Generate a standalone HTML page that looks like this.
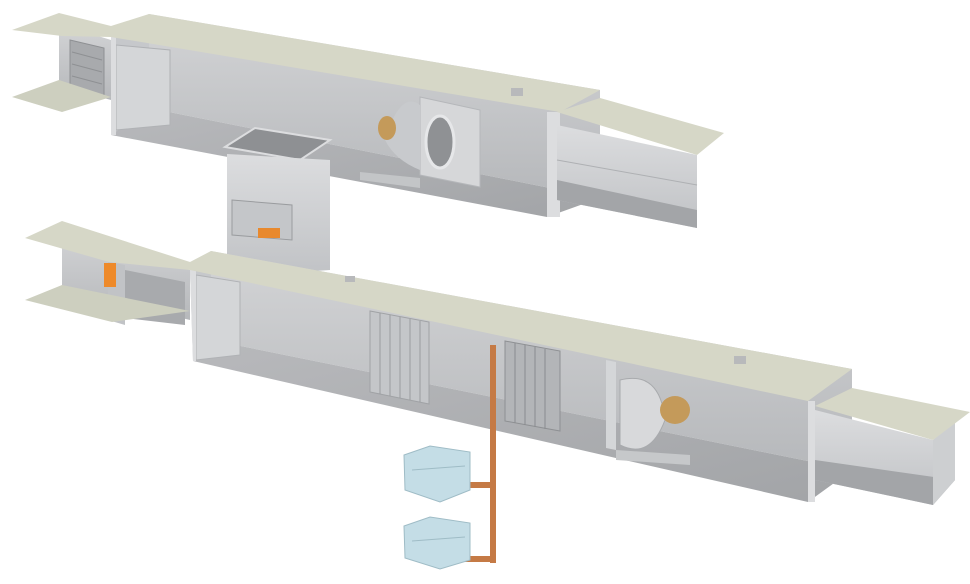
<!DOCTYPE html>
<html><head><meta charset="utf-8"><style>html,body{margin:0;padding:0;background:#fff;width:970px;height:584px;overflow:hidden}</style></head>
<body>
<svg width="970" height="584" viewBox="0 0 970 584" xmlns="http://www.w3.org/2000/svg">
<defs>
<linearGradient id="wall" x1="0" y1="0" x2="0" y2="1"><stop offset="0" stop-color="#d3d4d6"/><stop offset="1" stop-color="#b6b8bb"/></linearGradient>
<linearGradient id="floor" x1="0" y1="0" x2="1" y2="1"><stop offset="0" stop-color="#b8b9bc"/><stop offset="1" stop-color="#a2a4a7"/></linearGradient>
<linearGradient id="duct" x1="0" y1="0" x2="0" y2="1"><stop offset="0" stop-color="#dcdddf"/><stop offset="1" stop-color="#c0c2c5"/></linearGradient>
</defs>
<!-- UPPER UNIT -->
<polygon points="59,24 111,40 111,100 59,86" fill="url(#wall)"/>
<polygon points="70,40 104,48 104,98 70,90" fill="#a8aaad" stroke="#8e9093" stroke-width="1"/>
<g stroke="#8e9093"><line x1="72" y1="52" x2="102" y2="60"/><line x1="72" y1="64" x2="102" y2="72"/><line x1="72" y1="76" x2="102" y2="84"/></g>
<polygon points="12,97 59,80 111,97 62,112" fill="#cdcfbf"/>
<polygon points="149,14 600,90 600,198 149,108" fill="url(#wall)"/>
<polygon points="111,37 149,14 149,108 111,135" fill="#c6c8cb"/>
<polygon points="111,135 149,108 600,198 547,217" fill="url(#floor)"/>
<polygon points="116,45 170,50 170,125 116,130" fill="#d4d6d8" stroke="#b0b2b5"/>
<polygon points="225,147 255,128 330,140 300,160" fill="#8e9093" stroke="#dcdddf" stroke-width="2"/>
<polygon points="420,97 480,110 480,187 420,175" fill="#d6d7d9" stroke="#b5b7ba"/>
<ellipse cx="440" cy="142" rx="14" ry="26" fill="#8f9194" stroke="#e6e7e9" stroke-width="3"/>
<path d="M385,140 Q400,90 420,105 L420,170 Q395,160 385,140Z" fill="#c8cacd"/>
<ellipse cx="387" cy="128" rx="9" ry="12" fill="#c49a5a"/>
<polygon points="360,172 420,178 420,188 360,180" fill="#c3c5c7"/>
<polygon points="111,37 116,37 116,135 111,135" fill="#dcdddf"/>
<polygon points="547,112 560,112 560,217 547,217" fill="#dcdddf"/>
<polygon points="12,30 59,13 111,26 149,14 600,90 560,112 111,37 62,36" fill="#d6d7c7"/>
<rect x="511" y="88" width="12" height="8" fill="#b8b9bb"/>
<polygon points="557,125 697,155 697,228 557,200" fill="url(#duct)"/>
<polygon points="557,180 697,210 697,228 557,200" fill="#a3a5a8"/>
<line x1="557" y1="160" x2="697" y2="185" stroke="#aeb0b3"/>
<polygon points="557,112 600,98 724,133 697,155" fill="#d6d7c7"/>
<polygon points="227,154 330,160 330,270 227,277" fill="url(#duct)"/>
<polygon points="232,200 292,205 292,240 232,235" fill="#c4c6c9" stroke="#9a9c9f"/>
<rect x="258" y="228" width="22" height="10" fill="#e8892e"/>
<!-- LOWER UNIT -->
<polygon points="62,230 190,270 190,320 62,290" fill="url(#wall)"/>
<polygon points="108,262 125,265 125,325 108,320" fill="#c1c3c6"/>
<rect x="104" y="263" width="12" height="24" fill="#ee8a2a"/>
<polygon points="125,270 185,282 185,325 125,318" fill="#a8aaad"/>
<polygon points="25,300 62,285 190,311 112,322" fill="#cdcfbf"/>
<polygon points="211,251 852,369 852,470 211,340" fill="url(#wall)"/>
<polygon points="190,270 211,251 211,340 193,361" fill="#c6c8cb"/>
<polygon points="193,361 211,340 852,470 808,502" fill="url(#floor)"/>
<polygon points="196,275 240,282 240,355 196,360" fill="#d4d6d8" stroke="#b0b2b5"/>
<polygon points="370,311 429,322 429,404 370,392" fill="#c4c6c9" stroke="#a0a2a5"/>
<g stroke="#9a9c9f" stroke-width="1">
<line x1="380" y1="313" x2="380" y2="394"/><line x1="390" y1="315" x2="390" y2="396"/><line x1="400" y1="317" x2="400" y2="398"/><line x1="410" y1="319" x2="410" y2="400"/><line x1="420" y1="321" x2="420" y2="402"/></g>
<polygon points="505,341 560,351 560,431 505,421" fill="#b3b5b8" stroke="#8e9093"/>
<g stroke="#8a8c8f" stroke-width="1">
<line x1="515" y1="343" x2="515" y2="423"/><line x1="525" y1="345" x2="525" y2="425"/><line x1="535" y1="347" x2="535" y2="427"/><line x1="545" y1="349" x2="545" y2="429"/></g>
<polygon points="606,360 616,362 616,450 606,448" fill="#d4d6d8"/>
<path d="M620,380 Q660,370 665,420 Q650,460 620,445Z" fill="#d8d9db" stroke="#a8aaad"/>
<ellipse cx="675" cy="410" rx="15" ry="14" fill="#c49a5a"/>
<polygon points="616,450 690,455 690,465 616,460" fill="#c6c8ca"/>
<polygon points="190,270 196,270 196,361 193,361" fill="#dcdddf"/>
<polygon points="808,401 815,401 815,502 808,502" fill="#dcdddf"/>
<polygon points="25,238 62,221 190,262 211,251 852,369 808,401 190,270 109,262" fill="#d6d7c7"/>
<rect x="345" y="276" width="10" height="6" fill="#b8b9bb"/>
<rect x="734" y="356" width="12" height="8" fill="#b8b9bb"/>
<polygon points="815,410 933,440 933,505 815,480" fill="url(#duct)"/>
<polygon points="815,460 955,480 933,505 815,480" fill="#a3a5a8"/>
<polygon points="933,440 955,420 955,480 933,505" fill="#cdcfd1"/>
<polygon points="815,406 852,388 970,412 933,440" fill="#d6d7c7"/>
<rect x="490" y="345" width="6" height="218" fill="#c57a45"/>
<rect x="462" y="482" width="32" height="6" fill="#c57a45"/>
<rect x="462" y="556" width="34" height="6" fill="#c57a45"/>
<g fill="#c4dde6" stroke="#9fbcc6">
<path d="M404,455 L430,446 L470,452 L470,490 L440,502 L405,490Z"/>
<path d="M404,526 L430,517 L470,523 L470,560 L440,569 L405,558Z"/>
</g>
<g stroke="#9fbcc6" fill="none"><line x1="412" y1="470" x2="465" y2="466"/><line x1="412" y1="541" x2="465" y2="537"/></g>
</svg>
</body></html>
